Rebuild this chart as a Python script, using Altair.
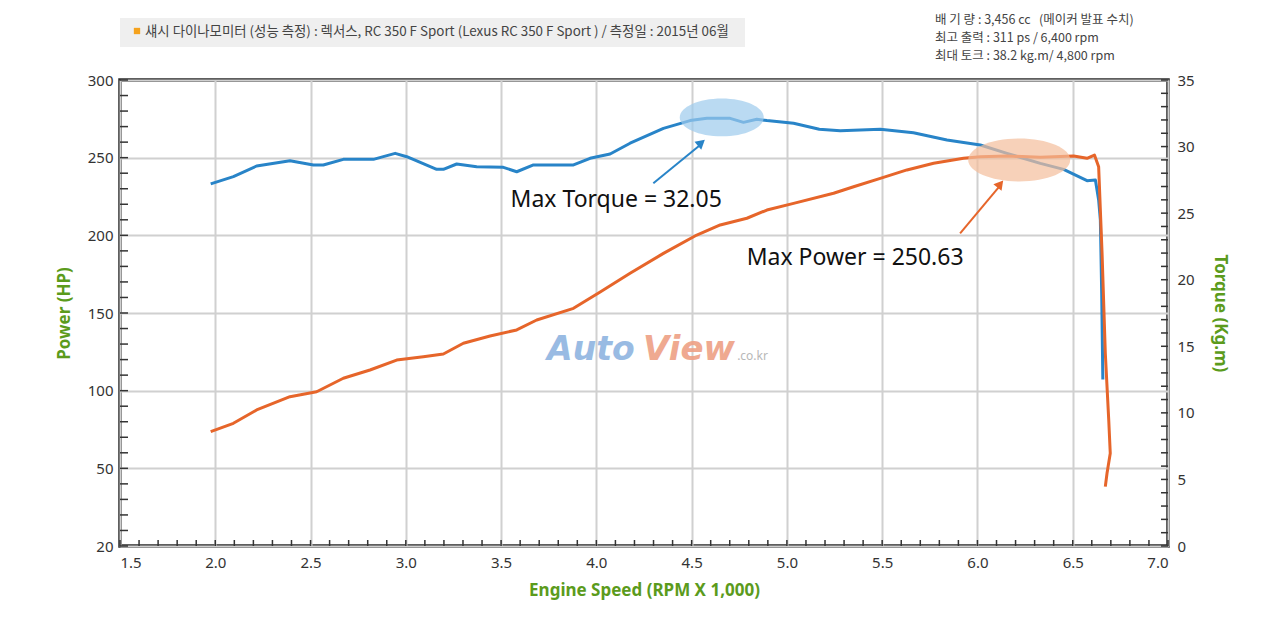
import altair as alt
import numpy as np
import pandas as pd

# ---------------- data ----------------
rpm_torque = [1.976, 2.095, 2.217, 2.392, 2.515, 2.567, 2.672, 2.83, 2.944, 3.005,
              3.162, 3.197, 3.267, 3.372, 3.512, 3.582, 3.670, 3.88, 3.967, 4.072,
              4.177, 4.352, 4.492, 4.58, 4.702, 4.772, 4.842, 4.895, 5.035, 5.17,
              5.28, 5.49, 5.664, 5.84, 6.015, 6.155, 6.33, 6.452, 6.575, 6.619,
              6.636, 6.645, 6.652, 6.658]
torque = [27.2, 27.74, 28.54, 28.94, 28.62, 28.62, 29.04, 29.04, 29.49, 29.24,
          28.29, 28.29, 28.69, 28.49, 28.44, 28.11, 28.62, 28.62, 29.12, 29.44,
          30.25, 31.37, 31.95, 32.12, 32.12, 31.82, 32.05, 31.95, 31.75, 31.3,
          31.19, 31.30, 31.04, 30.49, 30.12, 29.49, 28.74, 28.29, 27.44, 27.49,
          25.99, 24.49, 19.0, 12.5]

rpm_power = [1.976, 2.095, 2.217, 2.392, 2.532, 2.672, 2.812, 2.952, 3.092, 3.197,
             3.302, 3.442, 3.582, 3.687, 3.88, 4.02, 4.177, 4.352, 4.527, 4.65,
             4.79, 4.895, 5.035, 5.245, 5.35, 5.49, 5.63, 5.77, 5.927, 6.015,
             6.155, 6.33, 6.505, 6.575, 6.614, 6.636, 6.654, 6.671, 6.689, 6.697,
             6.68, 6.671]
power = [73.6, 79.0, 87.6, 96.1, 99.3, 108.0, 113.3, 119.7, 121.9, 123.6,
         130.5, 135.2, 139.1, 145.5, 153.0, 163.5, 175.6, 188.4, 200.2, 206.7,
         211.0, 216.3, 220.6, 227.1, 231.3, 236.7, 242.1, 246.4, 249.6, 250.6,
         251.1, 250.2, 251.1, 249.6, 251.7, 244.2, 188.4, 124.1, 81.1, 59.7,
         46.8, 38.2]

x_ticks = [1.5, 2.0, 2.5, 3.0, 3.5, 4.0, 4.5, 5.0, 5.5, 6.0, 6.5, 7.0]
power_ticks = [0, 50, 100, 150, 200, 250, 300]
torque_ticks = [0, 5, 10, 15, 20, 25, 30, 35]
x_minor = [round(v, 1) for v in np.arange(1.5, 7.0001, 0.1)]
power_minor = list(range(0, 301, 10))
torque_minor = list(range(0, 36, 1))

header_text = "섀시 다이나모미터 (성능 측정) : 렉서스, RC 350 F Sport  (Lexus RC 350 F Sport ) / 측정일 : 2015년 06월"
spec_lines = ["배 기 량 : 3,456 cc\u00a0\u00a0\u00a0(메이커 발표 수치)",
              "최고 출력 : 311 ps / 6,400 rpm",
              "최대 토크 : 38.2 kg.m/ 4,800 rpm"]

# annotation anchors (rpm, power-axis value)
notes_rows = [{"rpm": 4.104, "power": 222.7, "text": "Max Torque = 32.05"},
              {"rpm": 5.358, "power": 185.4, "text": "Max Power = 250.63"}]
torque_ellipse = {"rpm": 4.658, "power": 275.9}
power_ellipse = {"rpm": 6.219, "power": 248.5}
torque_arrow = {"rpm": 4.299, "power": 233.5, "rpm2": 4.556, "p2": 259.3}
power_arrow = {"rpm": 5.909, "power": 201.3, "rpm2": 6.122, "p2": 232.5}
torque_head = {"rpm": 4.551, "power": 259.6}
power_head = {"rpm": 6.12, "power": 233.1}
watermark_rows = [{"rpm": 3.7415, "power": 119.7, "s": "Auto"},
                  {"rpm": 4.2454, "power": 119.7, "s": "View"},
                  {"rpm": 4.7388, "power": 119.7, "s": ".co.kr"}]

W, H = 1048, 466
BLUE = "#2884c8"
ORANGE = "#e6652a"
GREEN = "#5b9b1c"
FONT = "Noto Sans"
KFONT = "Noto Sans CJK KR"

xs = alt.Scale(domain=[1.5, 7.0], nice=False, zero=False)
ps = alt.Scale(domain=[0, 300], nice=False)
ts = alt.Scale(domain=[0, 35], nice=False)

x_axis = alt.Axis(values=x_ticks, format=".1f", title="Engine Speed (RPM X 1,000)",
                  grid=True, gridColor="#d0d0d0", gridWidth=2, ticks=False,
                  domain=False, labelPadding=9, titlePadding=12,
                  labelFontSize=15, labelColor="#333", labelFont=FONT,
                  titleColor=GREEN, titleFontSize=17, titleFont=FONT,
                  titleFontWeight="bold")
p_axis = alt.Axis(orient="left", values=power_ticks, title="Power (HP)",
                  labelExpr="datum.value == 0 ? '20' : datum.label",
                  grid=True, gridColor="#d0d0d0", gridWidth=2, ticks=False,
                  domain=False, labelPadding=7, titlePadding=14,
                  labelFontSize=15, labelColor="#333", labelFont=FONT,
                  titleColor=GREEN, titleFontSize=17, titleFont=FONT,
                  titleFontWeight="bold")
t_axis = alt.Axis(orient="right", values=torque_ticks, title="Torque (Kg.m)",
                  grid=False, ticks=False, domain=False, labelPadding=9,
                  titlePadding=16, labelFontSize=15, labelColor="#333",
                  labelFont=FONT, titleColor=GREEN, titleFontSize=17,
                  titleFont=FONT, titleFontWeight="bold")

X = alt.X("rpm:Q", scale=xs, axis=x_axis)
YP = alt.Y("power:Q", scale=ps, axis=p_axis)
YT = alt.Y("torque:Q", scale=ts, axis=t_axis)

df_t = pd.DataFrame({"rpm": rpm_torque, "torque": torque, "i": range(len(torque))})
df_p = pd.DataFrame({"rpm": rpm_power, "power": power, "i": range(len(power))})

# ---------------- torque group (right axis) ----------------
torque_line = alt.Chart(df_t).mark_line(color=BLUE, strokeWidth=3, strokeJoin="round").encode(
    x=X, y=YT, order="i:Q")
torque_tick_marks = alt.Chart(pd.DataFrame({"torque": torque_minor})).mark_rule(
    color="#333", strokeWidth=1.5).encode(y=YT, x=alt.value(W - 7), x2=alt.value(W))
right_group = alt.layer(torque_line, torque_tick_marks)

# ---------------- power group (left axis) ----------------
wm = pd.DataFrame(watermark_rows)
watermark = alt.layer(
    alt.Chart(wm.iloc[[0]]).mark_text(
        align="left", baseline="alphabetic", font="DejaVu Sans", fontSize=33,
        fontWeight="bold", fontStyle="italic", color="#8fb4e0", opacity=0.9),
    alt.Chart(wm.iloc[[1]]).mark_text(
        align="left", baseline="alphabetic", font="DejaVu Sans", fontSize=34,
        fontWeight="bold", fontStyle="italic", color="#eea085", opacity=0.9),
    alt.Chart(wm.iloc[[2]]).mark_text(
        align="left", baseline="alphabetic", font=FONT, fontSize=12, color="#b8b8b8"),
).encode(x=X, y=YP, text="s:N")

power_line = alt.Chart(df_p).mark_line(color=ORANGE, strokeWidth=3, strokeJoin="round").encode(
    x=X, y=YP, order="i:Q")

power_tick_marks = alt.Chart(pd.DataFrame({"power": power_minor})).mark_rule(
    color="#333", strokeWidth=1.5).encode(y=YP, x=alt.value(0), x2=alt.value(8))
x_tick_marks = alt.Chart(pd.DataFrame({"rpm": x_minor})).mark_rule(
    color="#333", strokeWidth=1.5).encode(x=X, y=alt.value(H - 6), y2=alt.value(H))

ell_t = alt.Chart(pd.DataFrame([torque_ellipse])).mark_point(
    shape="M -1 0 A 1 0.45 0 1 1 1 0 A 1 0.45 0 1 1 -1 0 Z", size=84 * 84,
    filled=True, color="#9ccbec", opacity=0.7, strokeWidth=0).encode(x=X, y=YP)
ell_p = alt.Chart(pd.DataFrame([power_ellipse])).mark_point(
    shape="M -1 0 A 1 0.42 0 1 1 1 0 A 1 0.42 0 1 1 -1 0 Z", size=102 * 102,
    filled=True, color="#f3bd9b", opacity=0.7, strokeWidth=0).encode(x=X, y=YP)

arr_t = alt.Chart(pd.DataFrame([torque_arrow])).mark_rule(color=BLUE, strokeWidth=2).encode(
    x=X, x2="rpm2:Q", y=YP, y2="p2:Q")
arr_p = alt.Chart(pd.DataFrame([power_arrow])).mark_rule(color=ORANGE, strokeWidth=2).encode(
    x=X, x2="rpm2:Q", y=YP, y2="p2:Q")
head_t = alt.Chart(pd.DataFrame([torque_head])).mark_point(
    shape="triangle-up", size=110, filled=True, color=BLUE, opacity=1, angle=50).encode(x=X, y=YP)
head_p = alt.Chart(pd.DataFrame([power_head])).mark_point(
    shape="triangle-up", size=110, filled=True, color=ORANGE, opacity=1, angle=39).encode(x=X, y=YP)

notes = alt.Chart(pd.DataFrame(notes_rows)).mark_text(
    font=FONT, fontSize=23, color="#111", align="center", baseline="middle").encode(
    x=X, y=YP, text="text:N")

# header (outside the plot area)
header_bg = alt.Chart(pd.DataFrame({"a": [0]})).mark_rect(color="#efefef").encode(
    x=alt.value(0), x2=alt.value(625), y=alt.value(-62), y2=alt.value(-33))
header_sq = alt.Chart(pd.DataFrame({"a": [0]})).mark_square(
    color="#f5a21d", size=40, opacity=1).encode(x=alt.value(17), y=alt.value(-49))
header_tx = alt.Chart(pd.DataFrame({"s": [header_text]})).mark_text(
    font=KFONT, fontSize=13.4, color="#444", align="left", baseline="middle").encode(
    x=alt.value(25), y=alt.value(-48), text="s:N")
spec_df = pd.DataFrame({"s": spec_lines})
spec_tx = alt.layer(*[
    alt.Chart(spec_df.iloc[[k]]).mark_text(
        font=KFONT, fontSize=12.5, color="#444", align="left", baseline="middle").encode(
        x=alt.value(815), y=alt.value(yv), text="s:N")
    for k, yv in zip([0, 1, 2], [-60, -42, -24])
])

left_group = alt.layer(watermark, power_line, power_tick_marks, x_tick_marks,
                       ell_t, ell_p, arr_t, arr_p, head_t, head_p, notes,
                       header_bg, header_sq, header_tx, spec_tx)

chart = alt.layer(right_group, left_group).resolve_scale(y="independent").properties(
    width=W, height=H,
    autosize=alt.AutoSizeParams(type="none"),
    padding={"left": 112, "top": 72, "right": 100, "bottom": 58},
    background="white",
).configure_view(stroke="#2b2b2b", strokeWidth=3.5)

chart.save("out.html", embed_options={"renderer": "svg", "actions": False})
